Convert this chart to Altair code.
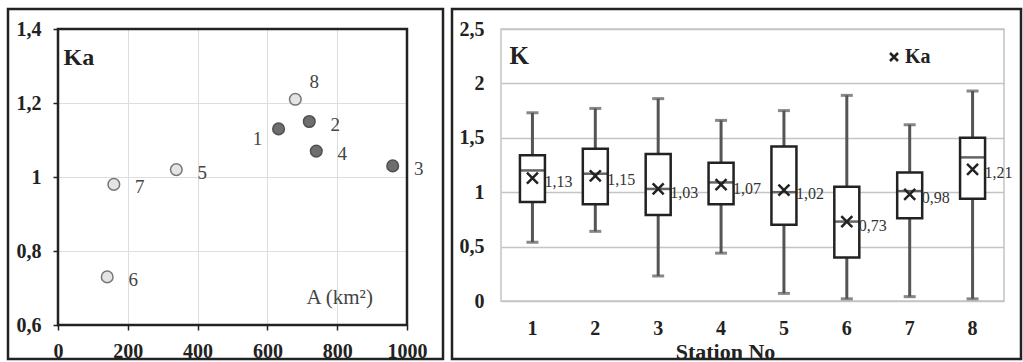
import altair as alt
import pandas as pd

# ---------------- data ----------------
# Left panel: Ka against catchment area A (km2)
station = [1, 2, 3, 4, 5, 6, 7, 8]
area_km2 = [632, 720, 959, 740, 339, 141, 160, 680]
ka = [1.13, 1.15, 1.03, 1.07, 1.02, 0.73, 0.98, 1.21]
group = ["dark", "dark", "dark", "dark", "light", "light", "light", "light"]

# Right panel: distribution of K per station
k_min = [0.54, 0.64, 0.23, 0.44, 0.07, 0.02, 0.04, 0.02]
k_q1 = [0.91, 0.89, 0.79, 0.89, 0.70, 0.40, 0.76, 0.94]
k_median = [1.20, 1.17, 1.03, 1.09, 1.00, 0.73, 1.01, 1.32]
k_q3 = [1.34, 1.40, 1.35, 1.27, 1.42, 1.05, 1.18, 1.50]
k_max = [1.73, 1.77, 1.86, 1.66, 1.75, 1.89, 1.62, 1.93]

x_ticks_left = [0, 200, 400, 600, 800, 1000]
y_ticks_left = [0.6, 0.8, 1.0, 1.2, 1.4]
y_ticks_right = [0, 0.5, 1, 1.5, 2, 2.5]

FONT = "Liberation Serif"
DARK = "#222222"
COMMA = "replace(format(datum.value, '.1~f'), '.', ',')"
X_PATH = "M-1,-1L1,1M-1,1L1,-1"

LW, LH = 349, 296
RW, RH = 503, 272

df_left = pd.DataFrame({"station": station, "area": area_km2, "ka": ka, "group": group})
df_right = pd.DataFrame({
    "station": station, "kmin": k_min, "q1": k_q1, "med": k_median,
    "q3": k_q3, "kmax": k_max, "ka": ka,
})
one = pd.DataFrame({"k": [0]})

# ---------------- left panel ----------------
lx = alt.X(
    "area:Q",
    scale=alt.Scale(domain=[0, 1000], nice=False, zero=False),
    axis=alt.Axis(
        values=x_ticks_left, format="d", title="A (km²)", labelFlush=False,
        titleX=248, titleY=-22, titleAlign="left", titleBaseline="alphabetic",
        titleFontWeight="normal", titleFontSize=21, titleColor="#444444",
        grid=True, gridColor="#dedede", gridWidth=1, domain=False,
        ticks=True, tickSize=5, tickColor=DARK, tickWidth=1.5,
        labelPadding=11, labelFontSize=20, labelFontWeight="bold", labelColor=DARK,
    ),
)
ly = alt.Y(
    "ka:Q",
    scale=alt.Scale(domain=[0.6, 1.4], nice=False, zero=False),
    axis=alt.Axis(
        values=y_ticks_left, labelExpr=COMMA, title="Ka", labelFlush=False,
        titleAngle=0, titleX=5, titleY=35, titleAlign="left", titleBaseline="alphabetic",
        titleFontWeight="bold", titleFontSize=24, titleColor=DARK,
        grid=True, gridColor="#dedede", gridWidth=1, domain=False,
        ticks=True, tickSize=5, tickColor=DARK, tickWidth=1.5,
        labelPadding=12, labelFontSize=20, labelFontWeight="bold", labelColor=DARK,
    ),
)

left_border = alt.Chart(one).mark_rect(
    fillOpacity=0, stroke=DARK, strokeWidth=2.5
).encode(x=alt.value(-50), x2=alt.value(385), y=alt.value(-20), y2=alt.value(330))
left_frame = alt.Chart(one).mark_rect(
    fillOpacity=0, stroke=DARK, strokeWidth=2.5
).encode(x=alt.value(0), x2=alt.value(LW), y=alt.value(0), y2=alt.value(LH))

pts = alt.Chart(df_left).mark_point(filled=True, size=135, strokeWidth=1.5, opacity=1).encode(
    x=lx, y=ly,
    fill=alt.Fill("group:N", scale=alt.Scale(domain=["dark", "light"], range=["#6e6e6e", "#e4e4e4"]), legend=None),
    stroke=alt.Stroke("group:N", scale=alt.Scale(domain=["dark", "light"], range=["#505050", "#777777"]), legend=None),
)

lab_style = dict(fontSize=19, color="#444444", font=FONT)
lab_right = alt.Chart(df_left).transform_filter(
    "datum.station != 1 && datum.station != 8"
).mark_text(dx=26, dy=3, **lab_style).encode(x="area:Q", y="ka:Q", text="station:N")
lab_one = alt.Chart(df_left).transform_filter("datum.station == 1").mark_text(
    dx=-21, dy=10, **lab_style).encode(x="area:Q", y="ka:Q", text="station:N")
lab_eight = alt.Chart(df_left).transform_filter("datum.station == 8").mark_text(
    dx=19, dy=-17, **lab_style).encode(x="area:Q", y="ka:Q", text="station:N")

left = alt.layer(left_border, left_frame, pts, lab_right, lab_one, lab_eight).properties(
    width=LW, height=LH
)

# ---------------- right panel ----------------
rx = alt.X(
    "station:O",
    scale=alt.Scale(paddingInner=0, paddingOuter=0),
    axis=alt.Axis(
        title="Station No", titleX=224, titleY=57, titleAlign="center",
        titleBaseline="alphabetic", titleFontSize=22, titleFontWeight="bold", titleColor=DARK,
        labelAngle=0, labelPadding=17, labelFontSize=20, labelFontWeight="bold",
        labelColor=DARK, domain=False, ticks=False, tickSize=0, grid=False,
    ),
)
ry_axis = alt.Axis(
    values=y_ticks_right, labelExpr=COMMA, title="K", labelFlush=False,
    titleAngle=0, titleX=8, titleY=34, titleAlign="left", titleBaseline="alphabetic",
    titleFontWeight="bold", titleFontSize=25, titleColor=DARK,
    grid=True, gridColor="#c4c4c4", gridWidth=1.5, domain=False,
    ticks=False, tickSize=0, labelPadding=17, labelFontSize=20,
    labelFontWeight="bold", labelColor=DARK,
)
ry_scale = alt.Scale(domain=[0, 2.5], nice=False, zero=False)

base = alt.Chart(df_right)
right_border = alt.Chart(one).mark_rect(
    fillOpacity=0, stroke=DARK, strokeWidth=2.5
).encode(x=alt.value(-49), x2=alt.value(520), y=alt.value(-20), y2=alt.value(330))
right_frame = alt.Chart(one).mark_rect(
    fillOpacity=0, stroke="#c4c4c4", strokeWidth=1.5
).encode(x=alt.value(0), x2=alt.value(RW), y=alt.value(0), y2=alt.value(RH))

whisker = base.mark_rule(color="#555555", strokeWidth=3).encode(
    x=rx, y=alt.Y("kmin:Q", scale=ry_scale, axis=ry_axis), y2="kmax:Q")
cap_lo = base.mark_tick(color="#555555", size=12, thickness=3).encode(x="station:O", y="kmin:Q")
cap_hi = base.mark_tick(color="#555555", size=12, thickness=3).encode(x="station:O", y="kmax:Q")
box = base.mark_bar(size=25, fill="white", stroke=DARK, strokeWidth=2.5).encode(
    x="station:O", y="q1:Q", y2="q3:Q")
median = base.mark_tick(color=DARK, size=25, thickness=2.5).encode(x="station:O", y="med:Q")
cross = base.mark_point(shape=X_PATH, size=121, filled=False, stroke=DARK,
                        strokeWidth=2.5, opacity=1).encode(x="station:O", y="ka:Q")
values = base.transform_calculate(
    lab="replace(format(datum.ka, '.2f'), '.', ',')"
).mark_text(align="left", dx=12, dy=4, fontSize=16, color="#333333", font=FONT).encode(
    x="station:O", y="ka:Q", text="lab:N")

legend_sym = alt.Chart(one).mark_point(shape=X_PATH, size=64, filled=False, stroke=DARK,
                                        strokeWidth=2.5, opacity=1).encode(
    x=alt.value(393), y=alt.value(28))
legend_txt = alt.Chart(one).mark_text(
    text="Ka", align="left", baseline="alphabetic", fontSize=20, fontWeight="bold",
    color=DARK, font=FONT).encode(x=alt.value(404), y=alt.value(34))

right = alt.layer(right_border, right_frame, whisker, cap_lo, cap_hi, box, median, cross,
                  values, legend_sym, legend_txt).properties(width=RW, height=RH)

chart = alt.hconcat(left, right, spacing=94, bounds="flush").properties(
    padding={"left": 6, "top": 7, "right": 0, "bottom": 0},
    background="white",
).configure(font=FONT).configure_axis(labelFont=FONT, titleFont=FONT).configure_view(
    stroke="transparent"
)

chart.save("out.html", embed_options={"renderer": "svg", "actions": False})
